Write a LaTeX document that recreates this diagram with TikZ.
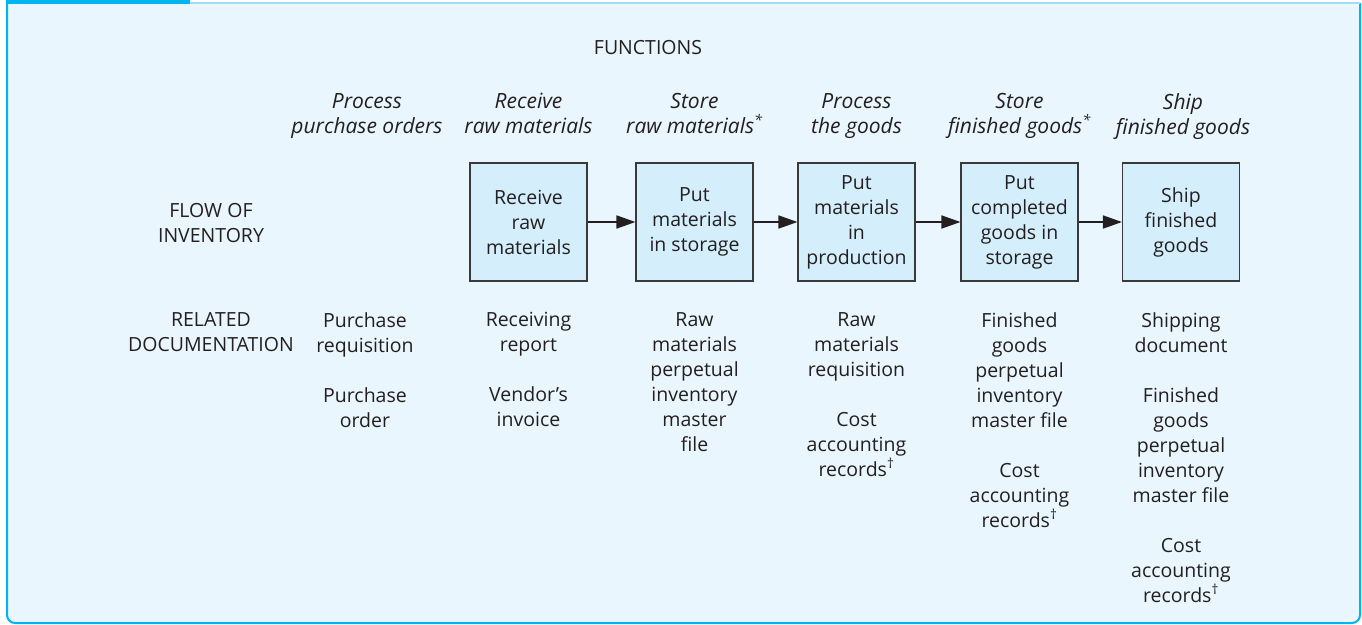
\documentclass[tikz,border=0pt]{standalone}
\usepackage{fontspec}
\setmainfont{Open Sans}
\usetikzlibrary{arrows.meta}
\definecolor{bgc}{HTML}{EAF6FD}
\definecolor{boxf}{HTML}{D4EEFB}
\definecolor{boxd}{HTML}{3A3A3A}
\definecolor{txt}{HTML}{231F20}
\definecolor{cyanc}{HTML}{00B5EF}
\definecolor{topl}{HTML}{A6DAF0}
\tikzset{
  lbl/.style={font=\fontsize{19.5}{25}\selectfont, align=center, inner sep=0pt, text=txt, anchor=north},
  hdr/.style={lbl, font=\fontsize{21}{25}\selectfont\itshape},
  stepbox/.style={draw=boxd, fill=boxf, line width=1.1pt, minimum width=117pt, minimum height=118pt,
    align=center, inner sep=0pt, text=txt, font=\fontsize{19.5}{25}\selectfont},
  arr/.style={-{Triangle[length=19pt,width=13pt]}, line width=1.7pt, draw=txt}
}
\begin{document}
\begin{tikzpicture}[x=1pt,y=-1pt]
\useasboundingbox (0,0) rectangle (1362,624);
% frame
\draw[cyanc, line width=2pt, fill=bgc, rounded corners=8pt] (7,3) -- (7,623) -- (1360,623) -- (1360,3);
\draw[topl, line width=1.5pt] (190,3) -- (1360,3);
\fill[cyanc] (6,0) rectangle (190,4);

% title
\node[lbl] (fun) at (648,40) {FUNCTIONS};

% headers
\node[hdr] (h1) at (367,93) {Process\\purchase orders};
\node[hdr] (h2) at (528.5,93) {Receive\\raw materials};
\node[hdr] (h3) at (694.5,93) {Store\\raw materials\textsuperscript{*}};
\node[hdr] (h4) at (856.5,93) {Process\\the goods};
\node[hdr] (h5) at (1019.5,93) {Store\\finished goods\textsuperscript{*}};
\node[hdr] (h6) at (1183,93) {Ship\\finished goods};

% row labels
\node[lbl] (flow) at (211,203) {FLOW OF\\INVENTORY};
\node[lbl] (rel) at (211,312) {RELATED\\DOCUMENTATION};

% boxes
\node[stepbox] (b1) at (528.5,222) {Receive\\raw\\materials};
\node[stepbox] (b2) at (694.5,222) {Put\\materials\\in storage};
\node[stepbox] (b3) at (856.5,222) {Put\\materials\\in\\production};
\node[stepbox] (b4) at (1019.5,222) {Put\\completed\\goods in\\storage};
\node[stepbox] (b5) at (1181,222) {Ship\\finished\\goods};

\draw[arr] (b1) -- (b2);
\draw[arr] (b2) -- (b3);
\draw[arr] (b3) -- (b4);
\draw[arr] (b4) -- (b5);

% documentation
\node[lbl] (d1) at (365,312) {Purchase\\requisition\\[25pt]Purchase\\order};
\node[lbl] (d2) at (528.5,312) {Receiving\\report\\[25pt]Vendor’s\\invoice};
\node[lbl] (d3) at (694.5,312) {Raw\\materials\\perpetual\\inventory\\master\\file};
\node[lbl] (d4) at (856.5,312) {Raw\\materials\\requisition\\[25pt]Cost\\accounting\\records\textsuperscript{†}};
\node[lbl] (d5) at (1019.5,312) {Finished\\goods\\perpetual\\inventory\\master file\\[25pt]Cost\\accounting\\records\textsuperscript{†}};
\node[lbl] (d6) at (1181,312) {Shipping\\document\\[25pt]Finished\\goods\\perpetual\\inventory\\master file\\[25pt]Cost\\accounting\\records\textsuperscript{†}};
\end{tikzpicture}
\end{document}
